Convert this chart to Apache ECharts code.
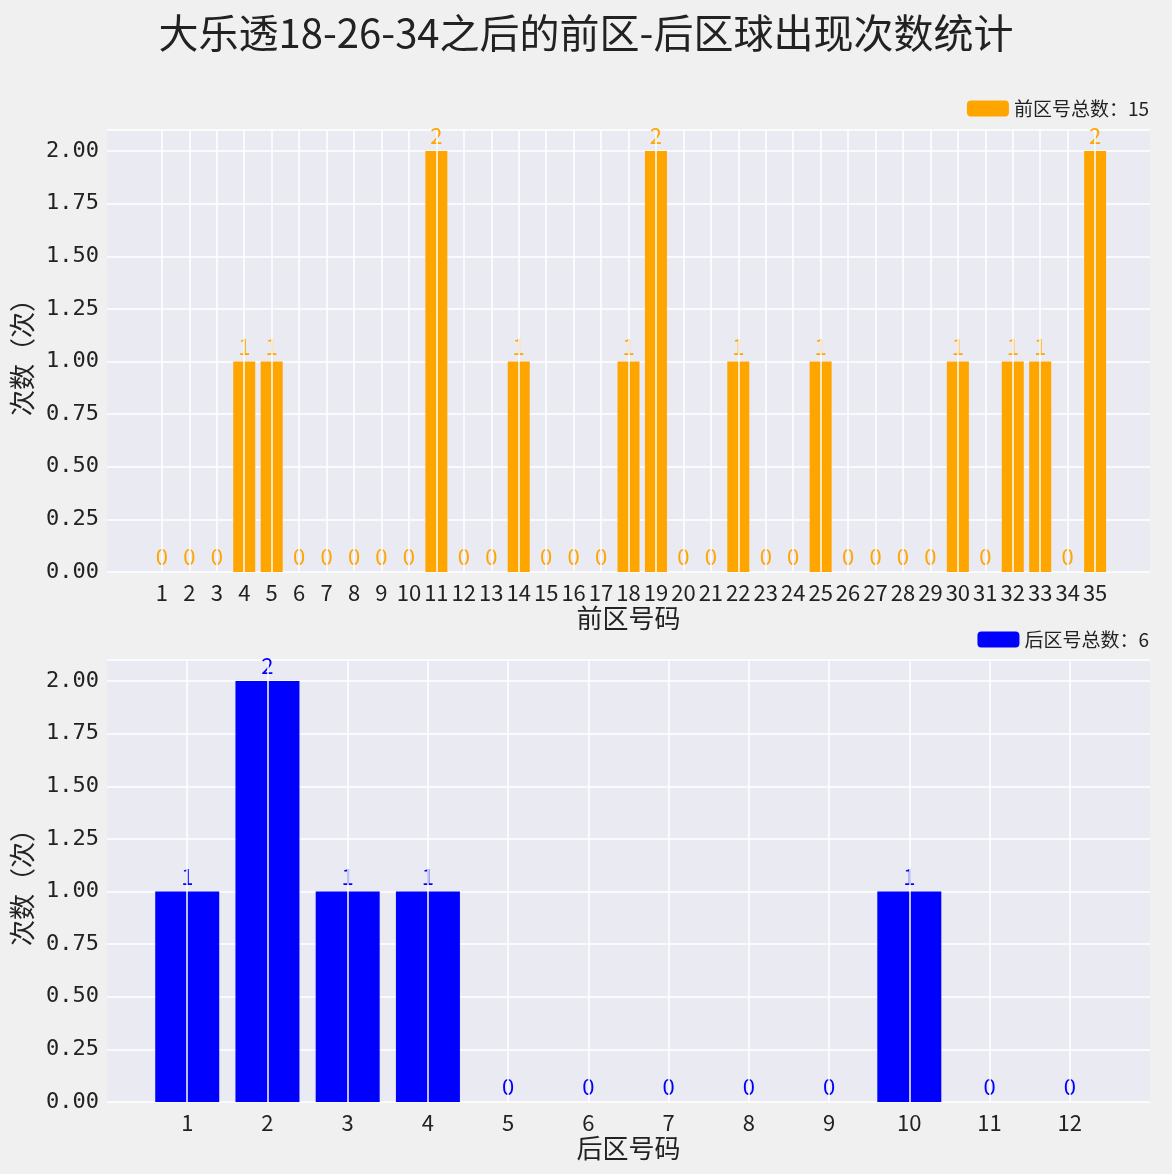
<!DOCTYPE html>
<html><head><meta charset="utf-8">
<script src="https://cdn.jsdelivr.net/npm/echarts@6/dist/echarts.min.js"></script>
<style>html,body{margin:0;background:#f0f0f0}#c{width:1172px;height:1174px}</style>
</head><body><div id="c"></div>
<script>
var frontNums=[];for(var i=1;i<=35;i++)frontNums.push(i);
var frontCounts=[0,0,0,1,1,0,0,0,0,0,2,0,0,1,0,0,0,1,2,0,0,1,0,0,1,0,0,0,0,1,0,1,1,0,2];
var backNums=[1,2,3,4,5,6,7,8,9,10,11,12];
var backCounts=[1,2,1,1,0,0,0,0,0,1,0,0];
var frontName='前区号总数：15', backName='后区号总数：6';
var font='"Noto Sans CJK SC", sans-serif';

function pairs(xs,ys){return xs.map(function(x,i){return [x,ys[i]];});}
function xAx(idx,min,max,lo,hi,name){
  return {gridIndex:idx,type:'value',min:min,max:max,interval:1,
    name:name,nameLocation:'middle',nameGap:32,nameTextStyle:{fontSize:26,color:'#222',fontFamily:font},
    axisLine:{show:false},axisTick:{show:false},splitLine:{show:false},
    axisLabel:{fontSize:22,color:'#222',fontFamily:font,margin:10,
      formatter:function(v){return (v>=lo&&v<=hi)?String(v):'';}}};
}
function yAx(idx){
  return {gridIndex:idx,type:'value',min:0,max:2.1,interval:0.25,
    name:'次数（次）',nameLocation:'middle',nameGap:70,nameTextStyle:{fontSize:26,color:'#222',fontFamily:font},
    axisLine:{show:false},axisTick:{show:false},
    splitLine:{lineStyle:{color:'#fff',width:1.5}},
    axisLabel:{fontSize:22,color:'#222',fontFamily:'"DejaVu Sans Mono", monospace',
      formatter:function(v){return Math.abs(v*4-Math.round(v*4))<1e-6?v.toFixed(2):'';}}};
}
function vlines(xs){
  return {silent:true,symbol:'none',label:{show:false},animation:false,
    lineStyle:{color:'#fff',width:1.5,type:'solid'},
    data:xs.map(function(x){return {xAxis:x};})};
}
function bars(name,idx,xs,ys,color,w){
  return {name:name,type:'bar',xAxisIndex:idx,yAxisIndex:idx,data:pairs(xs,ys),
    barWidth:w,itemStyle:{color:color},z:3,
    label:{show:true,position:'top',color:color,fontSize:22,distance:4,fontFamily:font},
    markLine:vlines(xs)};
}
var chart=echarts.init(document.getElementById('c'));
chart.setOption({
  backgroundColor:'#f0f0f0',animation:false,
  title:{text:'大乐透18-26-34之后的前区-后区球出现次数统计',left:'center',top:8,
    textStyle:{fontSize:40,fontWeight:'normal',color:'#222',fontFamily:font}},
  legend:[
    {data:[frontName],right:18,top:94,itemWidth:42,itemHeight:16,itemGap:10,
     textStyle:{fontSize:19,color:'#222',fontFamily:font}},
    {data:[backName],right:18,top:625,itemWidth:42,itemHeight:16,
     textStyle:{fontSize:19,color:'#222',fontFamily:font}}],
  grid:[
    {left:107,right:22,top:130,height:442,show:true,backgroundColor:'#eaeaf2',borderWidth:0},
    {left:107,right:22,top:660,height:442,show:true,backgroundColor:'#eaeaf2',borderWidth:0}],
  xAxis:[xAx(0,-1,37,1,35,'前区号码'),xAx(1,0,13,1,12,'后区号码')],
  yAxis:[yAx(0),yAx(1)],
  series:[bars(frontName,0,frontNums,frontCounts,'#ffa500',22),
          bars(backName,1,backNums,backCounts,'#0000ff',64)]
});
</script></body></html>
